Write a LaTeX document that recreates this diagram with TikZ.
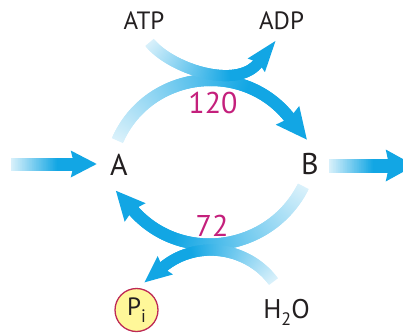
\documentclass[tikz,border=0pt]{standalone}
\usepackage{fontspec}
\setmainfont{PT Sans}
\usetikzlibrary{decorations.markings}
\definecolor{flowblue}{HTML}{12A6E4}
\definecolor{ratecol}{HTML}{C4207C}
\definecolor{pifill}{HTML}{FFF799}
\definecolor{piline}{HTML}{BE2A55}
\definecolor{ink}{HTML}{231F20}
\newcount\flowidx
\newcommand\lowsub[1]{\raisebox{-0.28em}{\fontsize{18}{18}\selectfont #1}}
\tikzset{
  flow/.style n args={3}{/utils/exec={\global\flowidx=0 },
     postaction={decoration={markings,
       mark=between positions 0 and 1 step 0.7pt with {%
         \global\advance\flowidx by 1 %
         \pgfmathsetmacro\flowmix{min(100,15+85*(\flowidx*0.7/(0.75*\pgfdecoratedpathlength)))}%
         \fill[flowblue!\flowmix!white] (-0.8pt,-#1/2) rectangle (0.8pt,#1/2);}}, decorate},
     postaction={decoration={markings,
       mark=at position 0.995 with {\fill[flowblue] (-3pt,#2) -- (#3,0pt) -- (-3pt,-#2) -- (0.5pt,0pt) -- cycle;}}, decorate}},
  lbl/.style={text=ink, font=\fontsize{25}{29}\selectfont, inner sep=0pt, anchor=base},
  big/.style={text=ink, font=\fontsize{30}{34}\selectfont, inner sep=0pt, anchor=base},
  rate/.style={text=ratecol, font=\fontsize{30}{34}\selectfont, inner sep=0pt, anchor=base},
  pinode/.style={circle, minimum size=43pt, inner sep=0pt, fill=pifill, draw=piline,
     line width=1.3pt, text=ink, font=\fontsize{25}{29}\selectfont}
}
\begin{document}
\begin{tikzpicture}[x=1pt,y=1pt]
\useasboundingbox (0,0) rectangle (403,335);
\clip (0,0) rectangle (403,335);
% labels
\node[big] (A) at (119,160) {A};
\node[big] (B) at (310,161) {B};
\node[lbl] (ATP) at (144,305) {ATP};
\node[lbl] (ADP) at (281.5,305) {ADP};
\node[rate] (k1) at (213,222) {120};
\node[rate] (k2) at (212,99) {72};
\node[pinode] (Pi) at (136.5,25) {P\lowsub{i}};
\node[lbl, font=\fontsize{27}{31}\selectfont] (W) at (286.5,17) {H\lowsub{2}O};
% connector ends
\coordinate (l0) at (12,171);   \coordinate (l1) at (74,171);
\coordinate (r0) at (330,169.5); \coordinate (rr) at (389,169.5);
\coordinate (t1) at (117.7,195.1); \coordinate (t2) at (290,216.5);
\coordinate (s1) at (150,292);   \coordinate (s2) at (258.5,272.5);
\coordinate (b1) at (303,148);   \coordinate (b2) at (132.5,125.5);
\coordinate (h1) at (273,54);    \coordinate (h2) at (162.5,67.5);
% arrows
\path[flow={13pt}{13.5pt}{23pt}] (l0) -- (l1);
\path[flow={14pt}{16pt}{26pt}] (r0) -- (rr);
\path[flow={12pt}{14pt}{26pt}] (b1) to[out=-117,in=-49,looseness=1.09] (b2);
\path[flow={11pt}{12pt}{24pt}] (h1) to[out=127,in=40] (h2);
\path[flow={12pt}{15pt}{28pt}] (t1) to[out=66,in=128,looseness=1.12] (t2);
\path[flow={11pt}{11pt}{28pt}] (s1) to[out=-50,in=233,looseness=0.8] (s2);
\end{tikzpicture}
\end{document}
